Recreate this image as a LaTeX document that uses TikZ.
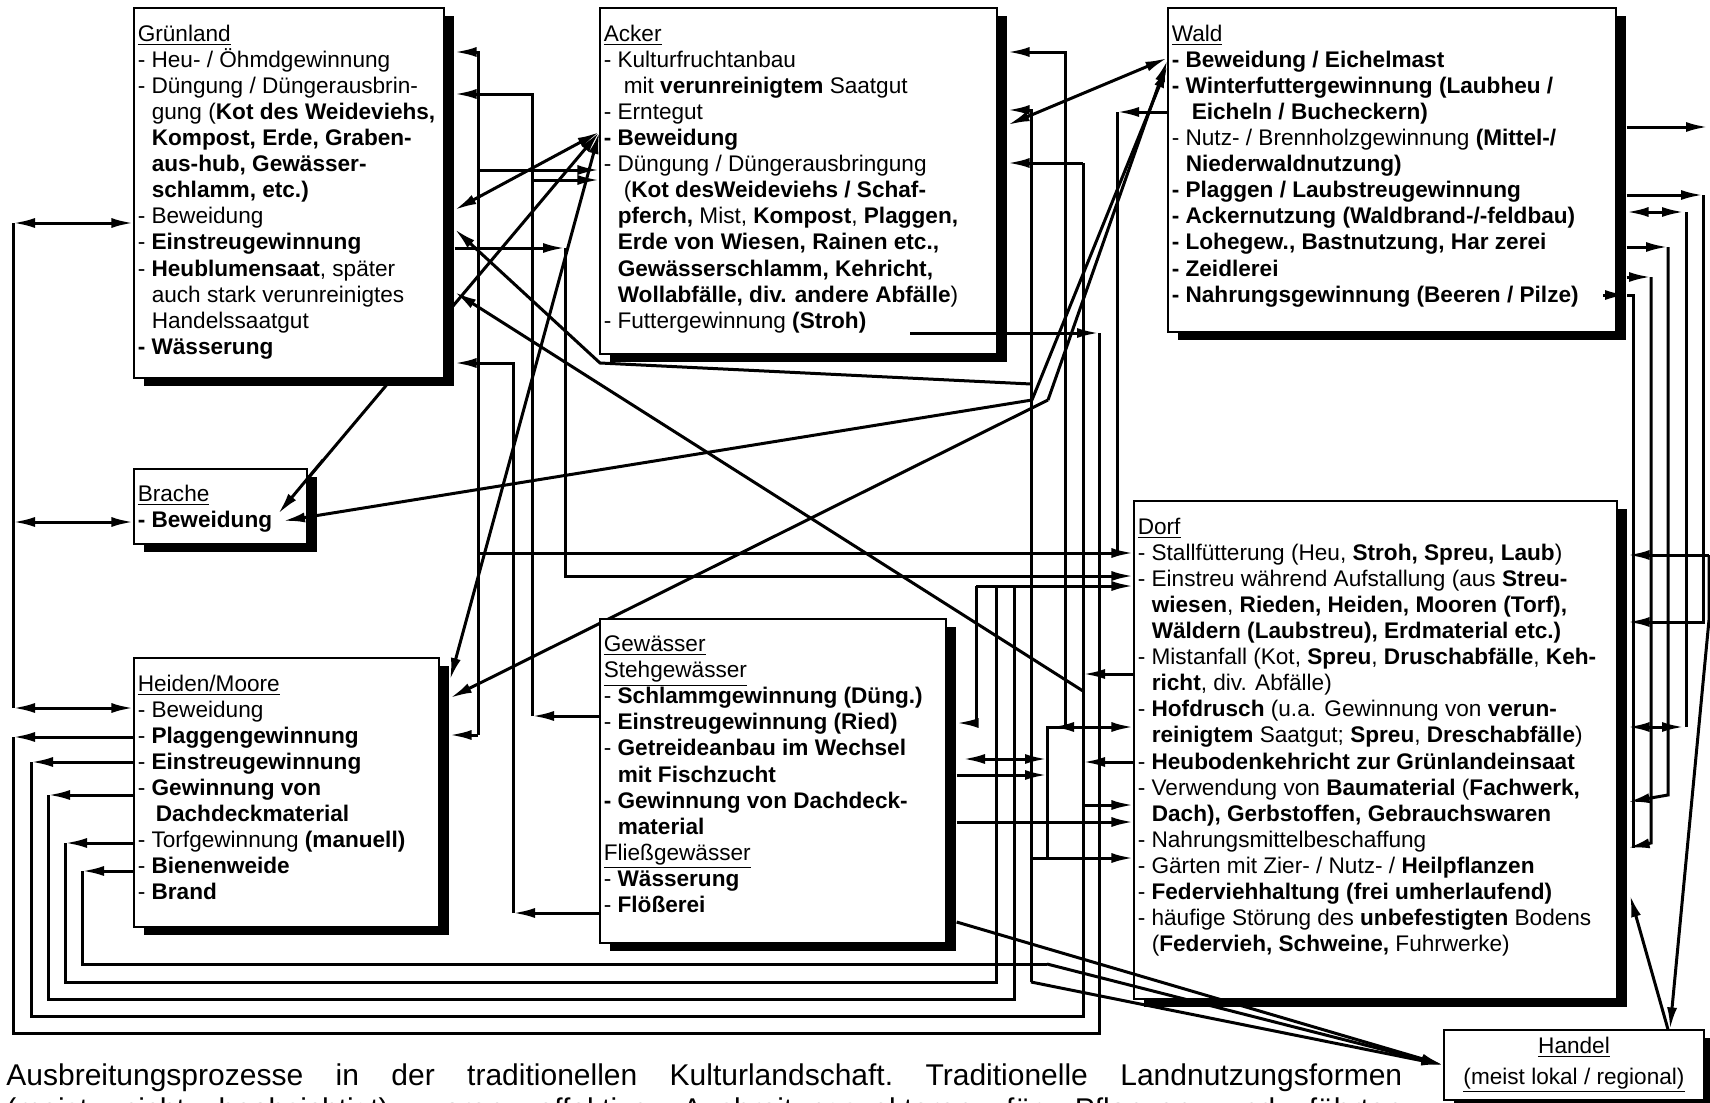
\documentclass[tikz,border=0pt]{standalone}
\usepackage{fontspec}
\setmainfont{Liberation Sans}
\usetikzlibrary{arrows.meta, fit, shadows}
\pgfdeclarelayer{paper}
\pgfdeclarelayer{wires}
\pgfsetlayers{paper,wires,main}

\newcommand\boxfont{\fontsize{11.3pt}{13.05pt}\selectfont}
\newcommand\capfont{\fontsize{15pt}{17pt}\selectfont\frenchspacing}
\newcommand\ind{\hspace*{7pt}}

\tikzset{
  box/.style={draw, line width=0.6pt, fill=white, inner sep=0pt,
    drop shadow={shadow xshift=5pt, shadow yshift=-4pt, opacity=1, fill=black}},
  boxtext/.style={anchor=north west, inner sep=0pt, align=left, font=\boxfont},
  link/.style={line width=1.5pt},
  arr/.style={link, -{Latex[length=11pt, width=5pt]}},
  arrs/.style={link, {Latex[length=11pt, width=5pt]}-{Latex[length=11pt, width=5pt]}},
}

\begin{document}
\begin{tikzpicture}[x=0.5pt, y=-0.5pt]
\useasboundingbox (0,0) rectangle (1710,1103);
\begin{pgfonlayer}{paper}
  \fill[white] (0,0) rectangle (1710,1103);
\end{pgfonlayer}

% Nutzungsformen
\node[box, fit={(134,8) (444,378)}] (gruenland) {};
\node[box, fit={(600,8) (997,354)}] (acker) {};
\node[box, fit={(1168,8) (1616,332)}] (wald) {};
\node[box, fit={(134,469) (307,544)}] (brache) {};
\node[box, fit={(134,658) (439,927)}] (heiden) {};
\node[box, fit={(600,619) (946,943)}] (gewaesser) {};
\node[box, fit={(1134,501) (1617,999)}] (dorf) {};
\node[box, fit={(1444,1030) (1704,1100)}] (handel) {};
\foreach \b in {gruenland, acker, wald, brache, heiden, gewaesser, dorf}
  \coordinate (\b-s) at ([xshift=5pt]\b.east);

\node[boxtext] (gruenland-t) at ([shift={(2pt,-8.5pt)}]gruenland.north west) {%
\underline{Grünland}\\
- Heu- / Öhmdgewinnung\\
- Düngung / Düngerausbrin-\\
\ind gung (\textbf{Kot des Weideviehs,}\\
\ind\textbf{Kompost, Erde, Graben-}\\
\ind\textbf{aus-hub, Gewässer-}\\
\ind\textbf{schlamm, etc.)}\\
- Beweidung\\
- \textbf{Einstreugewinnung}\\
- \textbf{Heublumensaat}, später\\
\ind auch stark verunreinigtes\\
\ind Handelssaatgut\\
\textbf{- Wässerung}};

\node[boxtext] (acker-t) at ([shift={(2pt,-8.5pt)}]acker.north west) {%
\underline{Acker}\\
- Kulturfruchtanbau\\
\hspace*{10pt}mit \textbf{verunreinigtem} Saatgut\\
- Erntegut\\
\textbf{- Beweidung}\\
- Düngung / Düngerausbringung\\
\hspace*{10pt}(\textbf{Kot desWeideviehs / Schaf-}\\
\ind\textbf{pferch,} Mist, \textbf{Kompost}, \textbf{Plaggen,}\\
\ind\textbf{Erde von Wiesen, Rainen etc.,}\\
\ind\textbf{Gewässerschlamm, Kehricht,}\\
\ind\textbf{Wollabfälle, div. andere Abfälle})\\
- Futtergewinnung \textbf{(Stroh)}};

\node[boxtext] (wald-t) at ([shift={(2pt,-8.5pt)}]wald.north west) {%
\underline{Wald}\\
\textbf{- Beweidung / Eichelmast}\\
\textbf{- Winterfuttergewinnung (Laubheu /}\\
\hspace*{10pt}\textbf{Eicheln / Bucheckern)}\\
- Nutz- / Brennholzgewinnung \textbf{(Mittel-/}\\
\ind\textbf{Niederwaldnutzung)}\\
\textbf{- Plaggen / Laubstreugewinnung}\\
\textbf{- Ackernutzung (Waldbrand-/-feldbau)}\\
\textbf{- Lohegew., Bastnutzung, Har zerei}\\
\textbf{- Zeidlerei}\\
\textbf{- Nahrungsgewinnung (Beeren / Pilze)}};

\node[boxtext] (brache-t) at ([shift={(2pt,-8pt)}]brache.north west) {%
\underline{Brache}\\
\textbf{- Beweidung}};

\node[boxtext] (heiden-t) at ([shift={(2pt,-8.5pt)}]heiden.north west) {%
\underline{Heiden/Moore}\\
- Beweidung\\
- \textbf{Plaggengewinnung}\\
- \textbf{Einstreugewinnung}\\
- \textbf{Gewinnung von}\\
\hspace*{9pt}\textbf{Dachdeckmaterial}\\
- Torfgewinnung \textbf{(manuell)}\\
- \textbf{Bienenweide}\\
- \textbf{Brand}};

\node[boxtext] (gewaesser-t) at ([shift={(2pt,-8.5pt)}]gewaesser.north west) {%
\underline{Gewässer}\\
\underline{Stehgewässer}\\
- \textbf{Schlammgewinnung (Düng.)}\\
- \textbf{Einstreugewinnung (Ried)}\\
- \textbf{Getreideanbau im Wechsel}\\
\ind\textbf{mit Fischzucht}\\
\textbf{- Gewinnung von Dachdeck-}\\
\ind\textbf{material}\\
\underline{Fließgewässer}\\
- \textbf{Wässerung}\\
- \textbf{Flößerei}};

\node[boxtext] (dorf-t) at ([shift={(2pt,-8.5pt)}]dorf.north west) {%
\underline{Dorf}\\
- Stallfütterung (Heu, \textbf{Stroh, Spreu, Laub})\\
- Einstreu während Aufstallung (aus \textbf{Streu-}\\
\ind\textbf{wiesen}, \textbf{Rieden, Heiden, Mooren (Torf),}\\
\ind\textbf{Wäldern (Laubstreu), Erdmaterial etc.)}\\
- Mistanfall (Kot, \textbf{Spreu}, \textbf{Druschabfälle}, \textbf{Keh-}\\
\ind\textbf{richt}, div. Abfälle)\\
- \textbf{Hofdrusch} (u.a. Gewinnung von \textbf{verun-}\\
\ind\textbf{reinigtem} Saatgut; \textbf{Spreu}, \textbf{Dreschabfälle})\\
- \textbf{Heubodenkehricht zur Grünlandeinsaat}\\
- Verwendung von \textbf{Baumaterial} (\textbf{Fachwerk,}\\
\ind\textbf{Dach), Gerbstoffen, Gebrauchswaren}\\
- Nahrungsmittelbeschaffung\\
- Gärten mit Zier- / Nutz- / \textbf{Heilpflanzen}\\
- \textbf{Federviehhaltung (frei umherlaufend)}\\
- häufige Störung des \textbf{unbefestigten} Bodens\\
\ind(\textbf{Federvieh, Schweine,} Fuhrwerke)};

\node[align=center, inner sep=0pt, font=\boxfont] (handel-t) at (handel.center) {%
\underline{Handel}\\[2.5pt]
\underline{(meist lokal / regional)}};

% Verbindungen unter den Kästen
\begin{pgfonlayer}{wires}
  % Beweidung am linken Rand
  \draw[link] (13,223) -- (13,708);
  \draw[arrs] (13,223) -- (gruenland.west |- 0,223);
  \draw[arrs] (13,522) -- (brache.west |- 0,522);
  \draw[arrs] (13,708) -- (heiden.west |- 0,708);

  % Heiden/Moore, Schleifen unten herum
  \draw[arr] (heiden.west |- 0,737) -- (13,737);
  \draw[link] (13,737) -- (13,1033) -- (1099,1033) -- (1099,333);
  \draw[arr] (heiden.west |- 0,762) -- (31,762);
  \draw[link] (31,762) -- (31,1016) -- (1083,1016) -- (1083,163);
  \draw[arr] (heiden.west |- 0,795) -- (48,795);
  \draw[link] (48,795) -- (48,999) -- (1014,999) -- (1014,586);
  \draw[arr] (heiden.west |- 0,843) -- (65,843);
  \draw[link] (65,843) -- (65,982) -- (996,982) -- (996,586);
  \draw[arr] (heiden.west |- 0,871) -- (82,871);
  \draw[link] (82,871) -- (82,964) -- (1047,964);

  % Grünland <-> Heiden/Moore, Zweige zu Acker und Dorf
  \draw[arr] (478,735) -- (478,52) -- (gruenland-s |- 0,52);
  \draw[arr] (478,735) -- (heiden-s |- 0,735);
  \draw[arr] (478,170) -- (acker.west |- 0,170);
  \draw[arr] (478,553) -- (dorf.west |- 0,553);

  % Gewässer: Schlamm, Flößerei
  \draw[arr] (gewaesser.west |- 0,716) -- (532,716);
  \draw[arr] (532,716) -- (532,94) -- (gruenland-s |- 0,94);
  \draw[arr] (532,180) -- (acker.west |- 0,180);
  \draw[arr] (gewaesser.west |- 0,913) -- (513,913);
  \draw[arr] (513,913) -- (513,363) -- (gruenland-s |- 0,363);

  % Grünland Einstreu -> Dorf
  \draw[arr] (gruenland-s |- 0,248) -- (565,248);
  \draw[arr] (565,248) -- (565,576) -- (dorf.west |- 0,576);

  % Beweidung -> Acker
  \draw[arrs] (gruenland-s |- 0,210) -- (acker.west |- 0,132);
  \draw[arr] (278,514) -- (acker.west |- 0,132);
  \draw[arrs] (450,680) -- (acker.west |- 0,132);

  % Heiden/Moore -> Wald
  \draw[arr] (1048,400) -- (wald.west |- 0,60);
  \draw[arr] (1048,400) -- (450,698);

  % Handel -> Grünland, Acker, Dorf
  \draw[link] (1031,982) -- (1031,384);
  \draw[arr] (1031,384) -- (600,363) -- (gruenland-s |- 0,229);
  \draw[arr] (1031,384) -- (1031,110) -- (acker-s |- 0,110);
  \draw[arr] (1031,858) -- (dorf.west |- 0,858);

  % Dorf -> Grünland, Acker
  \draw[arr] (1083,691) -- (gruenland-s |- 0,292);
  \draw[arr] (dorf.west |- 0,762) -- (1083,762);
  \draw[arr] (dorf.west |- 0,674) -- (1083,674);
  \draw[arr] (1083,163) -- (acker-s |- 0,163);
  \draw[arr] (1083,805) -- (dorf.west |- 0,805);
  \draw[arr] (1065,727) -- (1065,52) -- (acker-s |- 0,52);
  \draw[arr] (1047,858) -- (1047,727) -- (dorf.west |- 0,727);
  \draw[arr] (1100,727) -- (1052,727);

  % Gewässer -> Dorf
  \draw[arrs] (963,759) -- (1047,759);
  \draw[arr] (gewaesser-s |- 0,775) -- (1047,775);
  \draw[arr] (976,586) -- (976,723) -- (gewaesser-s |- 0,723);
  \draw[arr] (976,586) -- (dorf.west |- 0,586);
  \draw[arr] (gewaesser-s |- 0,822) -- (dorf.west |- 0,822);

  % Wald -> Stallfütterung, Acker <-> Wald
  \draw[arr] (wald.west |- 0,112) -- (1117,112);
  \draw[link] (1117,112) -- (1117,553);
  \draw[arrs] (acker-s |- 0,125) -- (wald.west |- 0,58);

  % Wald rechts -> Dorf
  \draw[arr] (wald-s |- 0,127) -- (1708,127);
  \draw[arr] (wald-s |- 0,195) -- (1703,195);
  \draw[arr] (1703,195) -- (1703,622) -- (dorf-s |- 0,622);
  \draw[arrs] (wald-s |- 0,212) -- (1684,212);
  \draw[link] (1686,212) -- (1686,727);
  \draw[arrs] (dorf-s |- 0,727) -- (1684,727);
  \draw[arr] (wald-s |- 0,247) -- (1668,247);
  \draw[arr] (1668,247) -- (1668,795) -- (dorf-s |- 0,802);
  \draw[arr] (wald-s |- 0,277) -- (1651,277);
  \draw[arr] (1651,277) -- (1651,843) -- (dorf-s |- 0,848);
  \draw[link] (1627,295) -- (1633,295) -- (1633,848);

  % rechter Rand, Handel <-> Dorf
  \draw[arr] (1709,555) -- (dorf-s |- 0,555);
  \draw[arr] (1709,555) -- (1709,620) -- (handel.north -| 1670,0);
  \draw[arr] (handel.north -| 1668,0) -- (1630,895);
\end{pgfonlayer}

% Verbindungen über den Kästen
\draw[arr] (323,460) -- (278,514);
\draw[arr] (1032,400) -- (283,521);
\draw[arr] (1032,400) -- (wald.west |- 0,66);
\draw[arr] (910,333) -- (1099,333);
\draw[arr] (1603,295) -- (1627,295);
\draw[arr] (gewaesser-s |- 0,922) -- (handel.west);
\draw[arr] (1047,964) -- (handel.west);
\draw[arr] (1031,982) -- (handel.west);

% Bildunterschrift
\node[anchor=base west, inner sep=0pt, font=\capfont] (caption1) at (6,1085)
  {\makebox[698pt][s]{Ausbreitungsprozesse in der traditionellen Kulturlandschaft. Traditionelle Landnutzungsformen}};
\node[anchor=base west, inner sep=0pt, font=\capfont] (caption2) at (6,1119)
  {\makebox[698pt][s]{(meist nicht beabsichtigt) waren effektive Ausbreitungsvektoren für Pflanzen und führten}};
\end{tikzpicture}
\end{document}
